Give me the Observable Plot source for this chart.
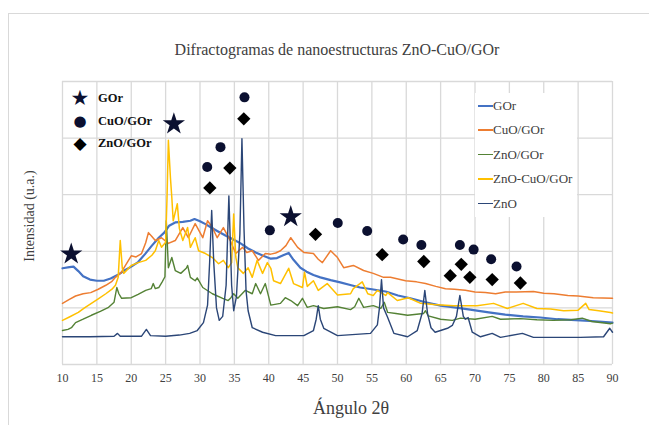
<!DOCTYPE html>
<html>
<head>
<meta charset="utf-8">
<script src="https://cdn.jsdelivr.net/npm/d3@7"></script>
<script src="https://cdn.jsdelivr.net/npm/@observablehq/plot@0.6"></script>
<style>
  html, body { margin: 0; padding: 0; background: #fff; }
  #wrap { position: relative; width: 649px; height: 425px; overflow: hidden; font-family: "Liberation Serif", "Times New Roman", serif; }
  #frame { position: absolute; left: 8px; top: 13px; width: 700px; height: 500px; border-left: 1px solid #d9d9d9; border-top: 1px solid #d9d9d9; }
  #chart { position: absolute; left: 0; top: 0; }
  #chart svg text { font-family: "Liberation Serif", "Times New Roman", serif !important; font-size: 12px; fill: #404040; }
  .title { position: absolute; left: 0; width: 674px; top: 41px; text-align: center; font-size: 16px; color: #404040; }
  .ylab { position: absolute; left: 30px; top: 216px; transform: translate(-50%, -50%) rotate(-90deg); font-size: 14px; color: #404040; white-space: nowrap; }
  .xlab { position: absolute; left: 351px; top: 408px; transform: translate(-50%, -50%); font-size: 18px; color: #404040; white-space: nowrap; }
  .leg { position: absolute; left: 475px; top: 93px; width: 102px; height: 124px; background: #fff; }
  .leg .it { position: absolute; left: 3px; font-size: 13px; color: #404040; white-space: nowrap; line-height: 14px; height: 14px; }
  .leg .sw { position: absolute; left: 0; top: 6px; width: 15px; height: 1.6px; }
  .leg .tx { position: absolute; left: 15px; top: 0; }
  .mg { position: absolute; transform: translate(-50%, -50%); font-family: "DejaVu Sans", sans-serif; color: #0b1030; line-height: 1; }
  .mt { position: absolute; transform: translateY(-50%); font-size: 12.5px; font-weight: bold; color: #111; white-space: nowrap; }
</style>
</head>
<body>
<div id="wrap">
  <div id="frame"></div>
  <div id="chart"></div>
  <div class="title">Difractogramas de nanoestructuras ZnO-CuO/GOr</div>
  <div class="ylab">Intensidad (u.a.)</div>
  <div class="xlab">Ángulo 2θ</div>
  <div id="mlegend"></div>
  <div class="leg" id="legend"></div>
</div>
<script>
// ---- Data (x = 2θ, y = relative intensity) ----
const xTicks = [10,15,20,25,30,35,40,45,50,55,60,65,70,75,80,85,90];
const yGrid = [0,1,2,3,4,5];

const seriesNames = ["GOr","CuO/GOr","ZnO/GOr","ZnO-CuO/GOr","ZnO"];
const seriesColors = ["#4472C4","#ED7D31","#548235","#FFC000","#2B4677"];
const seriesWidths = [2.2, 1.5, 1.4, 1.5, 1.4];

const gor = [[10,1.70],[11,1.72],[11.6,1.73],[12.3,1.65],[13,1.56],[14,1.50],[15,1.48],[16,1.48],[17,1.52],[18,1.58],[19,1.66],[20,1.73],[21,1.81],[22,1.95],[23,2.10],[24,2.24],[24.8,2.33],[25.5,2.45],[26.4,2.51],[27.5,2.52],[28.6,2.54],[29.2,2.57],[30,2.53],[30.8,2.48],[31.5,2.43],[32.5,2.36],[33.7,2.28],[35,2.20],[35.9,2.14],[37,2.05],[38.1,1.98],[39.2,1.92],[40.3,1.87],[41.2,1.88],[42.1,1.93],[42.9,1.97],[43.6,1.85],[44.6,1.71],[45.5,1.64],[46.5,1.58],[47.5,1.54],[49,1.49],[50.4,1.45],[52,1.40],[53.3,1.36],[55,1.33],[57,1.29],[58.8,1.22],[60.6,1.17],[62.8,1.10],[65,1.04],[67,1.01],[69.3,0.97],[72,0.92],[74.4,0.88],[77,0.85],[79.5,0.83],[82,0.80],[85.3,0.78],[88,0.76],[90,0.74]];

const cuoGor = [[10,1.08],[11,1.15],[11.9,1.21],[13,1.25],[14.1,1.27],[15.2,1.33],[16.3,1.40],[17.2,1.47],[17.7,1.54],[18.5,1.62],[19.2,1.76],[20,1.92],[20.7,1.90],[21.5,1.96],[22.1,2.15],[22.5,2.33],[23,2.26],[23.5,2.19],[24.4,2.24],[25.4,2.14],[26.4,2.19],[27.5,2.42],[28.3,2.24],[29.3,2.49],[30.4,2.24],[31.1,2.54],[31.8,2.42],[32.5,2.24],[33.4,2.42],[34.4,2.19],[35.2,1.96],[36.2,2.07],[36.8,1.98],[37.6,2.01],[38.5,1.84],[39.5,1.96],[40.3,1.95],[41,1.97],[41.7,2.01],[42.5,2.10],[43.2,2.24],[44.2,2.07],[45.1,1.98],[46.5,1.96],[47.2,1.86],[47.8,1.80],[49,2.01],[50,1.89],[50.9,1.71],[52.3,1.75],[53.8,1.66],[55.2,1.61],[56.7,1.54],[57.7,1.54],[59.9,1.48],[61.5,1.46],[62.8,1.43],[64.3,1.38],[65.7,1.34],[67,1.33],[68.6,1.31],[70,1.28],[71.5,1.27],[73,1.25],[74.4,1.28],[76,1.28],[78.5,1.29],[80,1.26],[81.5,1.25],[83.5,1.22],[85,1.21],[87.2,1.18],[90,1.17]];

const znoGor = [[10,0.60],[10.8,0.62],[11.3,0.65],[11.9,0.74],[13,0.80],[14.2,0.87],[15.5,0.94],[16.7,1.01],[17.5,1.10],[17.9,1.36],[18.2,1.25],[18.6,1.17],[20,1.18],[21,1.24],[22.1,1.31],[22.9,1.34],[23.2,1.43],[23.5,1.34],[24,1.36],[24.5,1.46],[24.9,1.55],[25.1,2.54],[25.4,1.71],[25.9,1.89],[26.4,1.66],[27.2,1.61],[28,1.70],[28.2,1.75],[28.6,1.54],[29.3,1.48],[29.6,1.53],[30.4,1.36],[31.8,1.25],[33.3,1.17],[34.1,1.13],[34.5,1.18],[34.9,1.25],[35.5,1.17],[36.6,1.31],[37.6,1.25],[38.1,1.43],[38.8,1.25],[39.5,1.43],[40.3,1.05],[41.7,1.08],[42.4,1.18],[43.2,1.13],[44.2,1.04],[44.9,1.17],[45.6,1.01],[46.5,1.04],[48,0.99],[50,1.02],[51.9,0.97],[52.5,1.02],[53.1,1.17],[53.8,1.01],[55.2,1.04],[56.3,0.99],[56.8,1.10],[57.3,0.92],[58.5,0.90],[60.2,0.87],[62.5,0.90],[62.8,0.95],[63.2,0.86],[65,0.80],[66.7,0.78],[67.9,0.82],[70,0.80],[72.5,0.85],[73.7,0.80],[76.6,0.81],[79,0.79],[81.4,0.78],[84,0.79],[85.6,0.82],[87,0.76],[89.7,0.72],[90,0.73]];

const znoCuoGor = [[10,0.78],[11,0.84],[12.3,0.92],[13.2,1.00],[14.2,1.08],[15.2,1.16],[16.3,1.25],[17.2,1.33],[17.7,1.40],[18.1,1.54],[18.4,2.19],[18.7,1.70],[18.9,1.61],[20,1.75],[21,1.80],[22.1,1.84],[23,1.93],[23.5,2.01],[24,2.19],[24.4,2.07],[25,2.16],[25.2,2.93],[25.4,3.96],[25.7,3.30],[25.9,2.95],[26.1,2.54],[26.7,2.84],[27,2.40],[27.5,2.19],[28.2,2.42],[28.6,2.07],[29.3,2.24],[29.8,2.01],[30.8,1.96],[31.8,1.89],[32.7,1.78],[33.4,1.84],[34.1,1.71],[34.6,1.80],[34.9,2.66],[35.2,1.90],[35.5,1.71],[36.3,1.61],[37,1.71],[37.6,1.54],[38.3,1.84],[39.1,1.61],[39.8,1.80],[40.3,1.70],[40.7,1.48],[41.7,1.43],[42.9,1.70],[43.6,1.43],[44.9,1.36],[45.2,1.63],[45.6,1.38],[46.5,1.48],[47.2,1.31],[48.5,1.43],[50,1.23],[51.9,1.25],[52.3,1.34],[53.6,1.46],[54.4,1.25],[55.2,1.22],[55.8,1.31],[57,1.22],[57.3,1.27],[58.7,1.13],[60.3,1.18],[62.1,1.08],[64,1.06],[66.9,1.04],[70.3,1.04],[72.7,1.08],[74.7,0.99],[77,1.08],[79,0.99],[81,0.98],[82.9,0.95],[85,0.96],[86.1,1.08],[86.6,0.97],[88,0.95],[89.7,0.92],[90,0.91]];

const zno = [[10,0.49],[14,0.49],[17.5,0.50],[18,0.55],[18.4,0.50],[21.5,0.50],[22.2,0.62],[22.8,0.51],[25,0.50],[27,0.52],[28.5,0.55],[29.6,0.60],[30.5,0.74],[31.1,1.05],[31.4,1.80],[31.7,2.72],[32.0,1.80],[32.4,1.00],[32.8,0.78],[33.3,0.85],[33.8,1.40],[34.2,2.98],[34.6,1.40],[34.9,0.95],[35.3,1.20],[35.8,2.30],[36.1,3.99],[36.4,2.40],[36.7,1.30],[37,0.95],[37.6,0.65],[39.1,0.57],[41,0.51],[45.1,0.51],[46.5,0.60],[46.9,0.80],[47.2,1.04],[47.5,0.80],[48,0.64],[50,0.51],[54.8,0.55],[55.8,0.70],[56.1,1.00],[56.4,1.50],[56.7,1.00],[57.3,0.83],[58.2,0.55],[60.2,0.49],[61.6,0.60],[62.3,0.90],[62.7,1.31],[63.1,0.90],[63.6,0.65],[64.2,0.57],[66,0.64],[66.7,0.69],[67.3,0.85],[67.8,1.22],[68.3,0.85],[68.6,0.80],[69.0,0.83],[69.6,0.57],[70.8,0.49],[72.5,0.55],[73.7,0.48],[76.9,0.55],[78.5,0.48],[81.4,0.48],[85.3,0.48],[88.7,0.49],[89.6,0.64],[90,0.57]];

// Phase markers (x, y)
const starMarks = [[11.27,1.95],[26.2,4.25],[43.2,2.61]];
const circleMarks = [[36.47,4.72],[32.98,3.84],[31.05,3.49],[40.16,2.37],[50.04,2.50],[54.32,2.36],[59.55,2.21],[62.2,2.11],[67.8,2.11],[69.8,2.03],[72.35,1.86],[76.04,1.73]];
const diamondMarks = [[36.37,4.34],[34.34,3.47],[31.43,3.12],[46.8,2.30],[56.5,1.94],[62.55,1.82],[66.4,1.57],[68.0,1.77],[69.25,1.54],[72.5,1.50],[76.6,1.44]];

const markerLegend = [["★","GOr"],["●","CuO/GOr"],["◆","ZnO/GOr"]];

// ---- Build ----
const allSeries = [gor, cuoGor, znoGor, znoCuoGor, zno];
const lineMarks = allSeries.map((s, i) =>
  Plot.line(s, {x: d => d[0], y: d => d[1], stroke: seriesColors[i], strokeWidth: seriesWidths[i], curve: "linear"})
);

const chart = Plot.plot({
  width: 649, height: 425,
  marginLeft: 62, marginRight: 37, marginTop: 81, marginBottom: 61,
  style: {fontFamily: "Liberation Serif, serif", fontSize: "12px", background: "transparent", color: "#404040"},
  x: {domain: [10, 90], ticks: xTicks, tickSize: 0, tickPadding: 9, label: null, tickFormat: d => d},
  y: {domain: [0, 5], axis: null},
  marks: [
    Plot.gridX(xTicks, {stroke: "#d9d9d9", strokeOpacity: 1, strokeWidth: 1.3}),
    Plot.gridY(yGrid, {stroke: "#d9d9d9", strokeOpacity: 1, strokeWidth: 1.3}),
    ...lineMarks,
    Plot.dot(starMarks, {x: d => d[0], y: d => d[1], symbol: "star", r: 7, fill: "#0b1030", stroke: "none"}),
    Plot.dot(circleMarks, {x: d => d[0], y: d => d[1], symbol: "circle", r: 5, fill: "#0b1030", stroke: "none"}),
    Plot.dot(diamondMarks, {x: d => d[0], y: d => d[1], symbol: "diamond2", r: 6, fill: "#000", stroke: "none"})
  ]
});
document.getElementById("chart").appendChild(chart);

// Series legend
const leg = document.getElementById("legend");
seriesNames.forEach((n, i) => {
  const it = document.createElement("div");
  it.className = "it";
  it.style.top = (6 + i * 24.4) + "px";
  const sw = document.createElement("span");
  sw.className = "sw";
  sw.style.background = seriesColors[i];
  const tx = document.createElement("span");
  tx.className = "tx";
  tx.textContent = n;
  it.appendChild(sw);
  it.appendChild(tx);
  leg.appendChild(it);
});

// Marker legend
const ml = document.getElementById("mlegend");
const glyphSizes = ["21px", "15px", "17px"];
markerLegend.forEach(([g, n], i) => {
  const cy = 98 + i * 22.5;
  const gs = document.createElement("div");
  gs.className = "mg";
  gs.textContent = g;
  gs.style.left = "80px";
  gs.style.top = cy + "px";
  gs.style.fontSize = glyphSizes[i];
  if (i === 2) gs.style.color = "#000";
  const tx = document.createElement("div");
  tx.className = "mt";
  tx.style.left = "98px";
  tx.style.top = cy + "px";
  tx.textContent = n;
  ml.appendChild(gs);
  ml.appendChild(tx);
});
</script>
</body>
</html>
